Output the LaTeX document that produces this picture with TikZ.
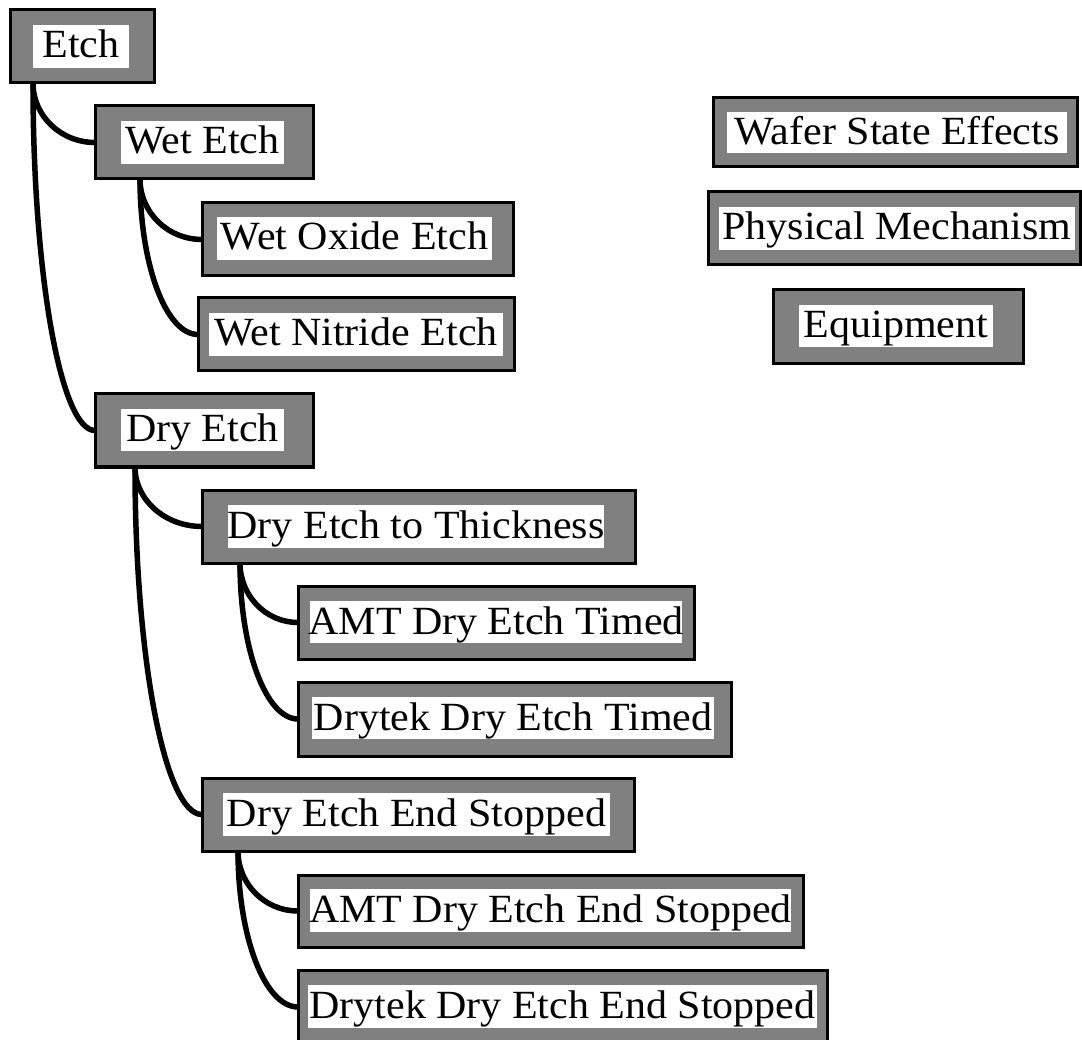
\documentclass[tikz,border=0pt]{standalone}
\usepackage{fontspec}
\setmainfont{Liberation Serif}[FakeStretch=1.05]
\usetikzlibrary{calc,fit}
\definecolor{boxgray}{gray}{0.5}
\tikzset{
  graybox/.style={draw=black, line width=3pt, fill=boxgray, inner sep=0pt, outer sep=0pt},
  whitepad/.style={fill=white, draw=none, inner sep=0pt, outer sep=0pt},
  boxtext/.style={font=\fontsize{40}{48}\selectfont, inner sep=0pt, outer sep=0pt, anchor=base},
  conn/.style={draw=black, line width=5.5pt},
}
% \tbox{name}{outer corner}{outer corner}{pad corner}{pad corner}{text}
\newcommand\tbox[6]{%
  \node[graybox, fit={#2 #3}] (#1) {};
  \node[whitepad, fit={#4 #5}] (#1-w) {};
  \node[boxtext] (#1-t) at ([yshift=-33pt]#1-w.north) {#6};
}
% quarter-ellipse branch from a stem point into the west side of a child box
\newcommand\branch[2]{%
  \draw[conn] (#1) .. controls ($(#1)!0.5523!(#1|-#2)$) and ($(#2)!0.5523!(#1|-#2)$) .. (#2);
}
\begin{document}
\begin{tikzpicture}[x=1pt, y=-1pt]
  \fill[white] (0,0) rectangle (1082,1040);
  \useasboundingbox (0,0) rectangle (1082,1040);

  % tree of etch steps
  \tbox{etch}{(10,10)}{(154,83)}{(33,25)}{(129,68)}{Etch}
  \tbox{wet}{(95,106)}{(313,179)}{(121,121)}{(284,164)}{Wet Etch}
  \tbox{wox}{(202,203)}{(513,276)}{(217,217)}{(492,260)}{Wet Oxide Etch}
  \tbox{wni}{(198,298)}{(514,371)}{(209,313)}{(503,356)}{Wet Nitride Etch}
  \tbox{dry}{(95,394)}{(313,467)}{(121,409)}{(284,451)}{Dry Etch}
  \tbox{dtt}{(202,490)}{(635,563)}{(228,505)}{(604,548)}{Dry Etch to Thickness}
  \tbox{amtt}{(298,586)}{(694,659)}{(310,601)}{(682,643)}{AMT Dry Etch Timed}
  \tbox{dtkt}{(298,682)}{(731,756)}{(312,697)}{(714,739)}{Drytek Dry Etch Timed}
  \tbox{des}{(202,778)}{(634,851)}{(223,793)}{(610,836)}{Dry Etch End Stopped}
  \tbox{amtes}{(298,875)}{(803,947)}{(310,889)}{(791,932)}{AMT Dry Etch End Stopped}
  \tbox{dtkes}{(298,970)}{(827,1044)}{(308,985)}{(817,1028)}{Drytek Dry Etch End Stopped}

  % legend boxes
  \tbox{wse}{(713,98)}{(1077,167)}{(727,112)}{(1067,153)}{Wafer State Effects}
  \tbox{pm}{(708,192)}{(1080,265)}{(719,207)}{(1075,250)}{Physical Mechanism}
  \tbox{eq}{(773,290)}{(1023,364)}{(799,305)}{(993,347)}{Equipment}

  % stems below each parent box
  \coordinate (etch-s) at ([xshift=23pt]etch.south west);
  \coordinate (wet-s)  at ([xshift=45pt]wet.south west);
  \coordinate (dry-s)  at ([xshift=40pt]dry.south west);
  \coordinate (dtt-s)  at ([xshift=38pt]dtt.south west);
  \coordinate (des-s)  at ([xshift=36pt]des.south west);

  \branch{etch-s}{wet.west}
  \branch{etch-s}{dry.west}
  \branch{wet-s}{wox.west}
  \branch{wet-s}{wni.west}
  \branch{dry-s}{dtt.west}
  \branch{dry-s}{des.west}
  \branch{dtt-s}{amtt.west}
  \branch{dtt-s}{dtkt.west}
  \branch{des-s}{amtes.west}
  \branch{des-s}{dtkes.west}
\end{tikzpicture}
\end{document}
